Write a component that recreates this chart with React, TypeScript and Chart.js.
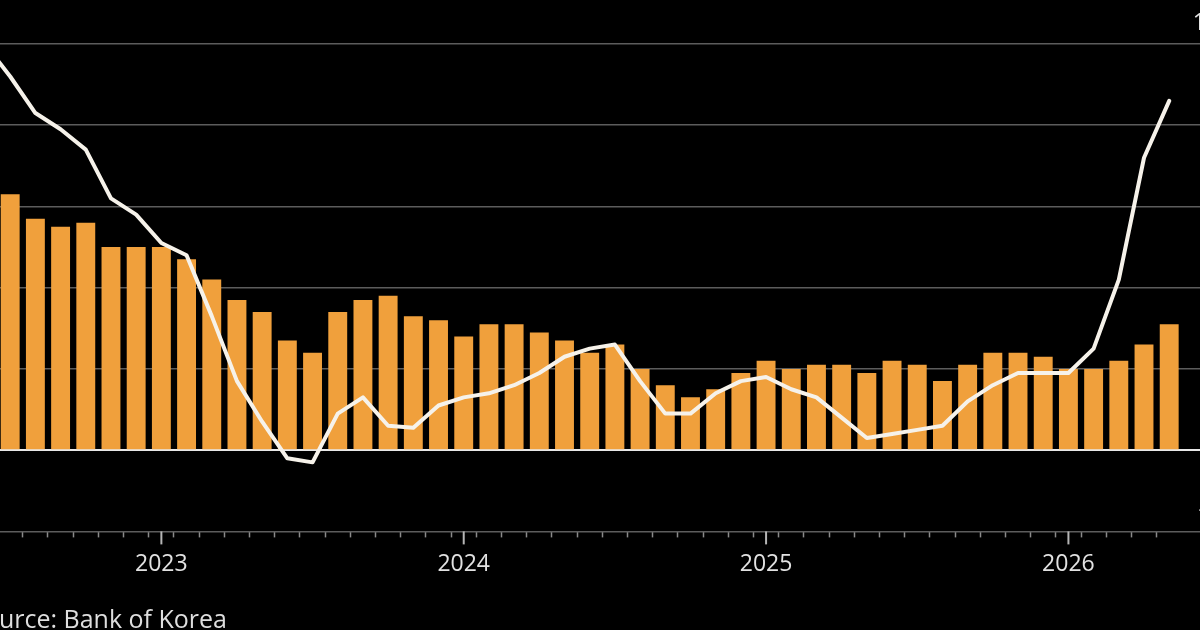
import React, { useEffect, useRef } from 'react';
import { Chart, registerables } from 'chart.js';

Chart.register(...registerables);

// Monthly categories (Jun 2022 .. Jun 2026; the first and last are partly off-frame)
const months = [
  '2022-06', '2022-07', '2022-08', '2022-09', '2022-10', '2022-11', '2022-12',
  '2023-01', '2023-02', '2023-03', '2023-04', '2023-05', '2023-06',
  '2023-07', '2023-08', '2023-09', '2023-10', '2023-11', '2023-12',
  '2024-01', '2024-02', '2024-03', '2024-04', '2024-05', '2024-06',
  '2024-07', '2024-08', '2024-09', '2024-10', '2024-11', '2024-12',
  '2025-01', '2025-02', '2025-03', '2025-04', '2025-05', '2025-06',
  '2025-07', '2025-08', '2025-09', '2025-10', '2025-11', '2025-12',
  '2026-01', '2026-02', '2026-03', '2026-04', '2026-05', '2026-06',
];

// Consumer prices, YoY % (bars)
const consumerPrices: (number | null)[] = [
  null,
  6.3, 5.7, 5.5, 5.6, 5.0, 5.0,
  5.0, 4.7, 4.2, 3.7, 3.4, 2.7,
  2.4, 3.4, 3.7, 3.8, 3.3, 3.2,
  2.8, 3.1, 3.1, 2.9, 2.7, 2.4,
  2.6, 2.0, 1.6, 1.3, 1.5, 1.9,
  2.2, 2.0, 2.1, 2.1, 1.9, 2.2,
  2.1, 1.7, 2.1, 2.4, 2.4, 2.3,
  2.0, 2.0, 2.2, 2.6, 3.1,
];

// Producer prices, YoY % (line)
const producerPrices: (number | null)[] = [
  10.0,
  9.2, 8.3, 7.9, 7.4, 6.2, 5.8,
  5.1, 4.8, 3.3, 1.7, 0.7, -0.2,
  -0.3, 0.9, 1.3, 0.6, 0.55, 1.1,
  1.3, 1.4, 1.6, 1.9, 2.3, 2.5,
  2.6, 1.7, 0.9, 0.9, 1.4, 1.7,
  1.8, 1.5, 1.3, 0.8, 0.3, 0.4,
  0.5, 0.6, 1.2, 1.6, 1.9, 1.9,
  1.9, 2.5, 4.2, 7.2, 8.6,
];

const yTickValues = [-2, 0, 2, 4, 6, 8, 10];
const yTickLabels = ['-2', '0', '2', '4', '6', '8', '10'];
const hiddenTickIndices = [0, 48];

const FONT = '"Open Sans", "Noto Sans", sans-serif';

const yearTicksPlugin = {
  id: 'yearTicks',
  afterDraw(chart: any) {
    const x = chart.scales.x;
    const area = chart.chartArea;
    const ctx = chart.ctx;
    ctx.save();
    ctx.strokeStyle = '#b5b5b5';
    ctx.lineWidth = 2;
    months.forEach((m, i) => {
      if (m.endsWith('-01')) {
        const px = x.getPixelForTick(i);
        ctx.beginPath();
        ctx.moveTo(px, area.bottom);
        ctx.lineTo(px, area.bottom + 13);
        ctx.stroke();
      }
    });
    ctx.restore();
  },
};

export default function App() {
  const ref = useRef<HTMLCanvasElement>(null);

  useEffect(() => {
    if (!ref.current) return;
    const chart = new Chart(ref.current, {
      type: 'bar',
      data: {
        labels: months,
        datasets: [
          {
            type: 'line',
            label: 'Producer prices',
            data: producerPrices,
            borderColor: '#f6f2ea',
            borderWidth: 4,
            pointRadius: 0,
            tension: 0,
            borderJoinStyle: 'round',
            borderCapStyle: 'round',
            order: 0,
          } as any,
          {
            type: 'bar',
            label: 'Consumer prices',
            data: consumerPrices,
            backgroundColor: '#f0a03c',
            borderWidth: 0,
            categoryPercentage: 1,
            barPercentage: 0.75,
            order: 1,
          },
        ],
      },
      plugins: [yearTicksPlugin],
      options: {
        responsive: false,
        animation: false,
        devicePixelRatio: 1,
        layout: { padding: { top: 44, bottom: 39, left: 0, right: 0 } },
        plugins: {
          legend: { display: false },
          tooltip: { enabled: false },
        },
        scales: {
          x: {
            type: 'category',
            offset: true,
            border: { display: false },
            grid: {
              drawOnChartArea: false,
              drawTicks: true,
              tickLength: 6,
              tickWidth: 1.5,
              tickColor: (ctx: any) =>
                hiddenTickIndices.includes(ctx.index) ? 'rgba(0,0,0,0)' : '#8a8a8a',
            },
            ticks: {
              autoSkip: false,
              maxRotation: 0,
              minRotation: 0,
              padding: 13,
              color: '#e2e2e2',
              font: { family: FONT, size: 23 },
              callback: (_v: any, i: number) =>
                months[i].endsWith('-01') ? months[i].slice(0, 4) : '',
            },
          },
          y: {
            position: 'right',
            min: -2,
            max: 10,
            border: { display: false },
            afterBuildTicks: (axis: any) => {
              axis.ticks = yTickValues.map((v) => ({ value: v }));
            },
            grid: {
              drawTicks: false,
              color: (ctx: any) => (ctx.tick && ctx.tick.value === 0 ? '#e8e8e8' : '#5c5c5c'),
              lineWidth: (ctx: any) => (ctx.tick && ctx.tick.value === 0 ? 2 : 1.5),
            },
            ticks: {
              mirror: true,
              padding: 12,
              labelOffset: -21,
              color: '#e2e2e2',
              font: { family: FONT, size: 23 },
              callback: (v: any) => {
                const k = yTickValues.indexOf(Number(v));
                return k >= 0 ? yTickLabels[k] : '';
              },
            },
          },
        },
      },
    });
    return () => chart.destroy();
  }, []);

  return (
    <div
      style={{
        position: 'fixed',
        left: 0,
        top: 0,
        width: 1200,
        height: 630,
        overflow: 'hidden',
        background: '#000',
      }}
    >
      <canvas
        ref={ref}
        width={1259}
        height={630}
        style={{ position: 'absolute', left: -28, top: 0, width: 1259, height: 630 }}
      />
      <div
        style={{
          position: 'absolute',
          right: 1200 - 227,
          top: 601,
          lineHeight: '34px',
          whiteSpace: 'nowrap',
          textAlign: 'right',
          color: '#dedede',
          fontFamily: FONT,
          fontSize: 25,
        }}
      >
        Source: Bank of Korea
      </div>
    </div>
  );
}
